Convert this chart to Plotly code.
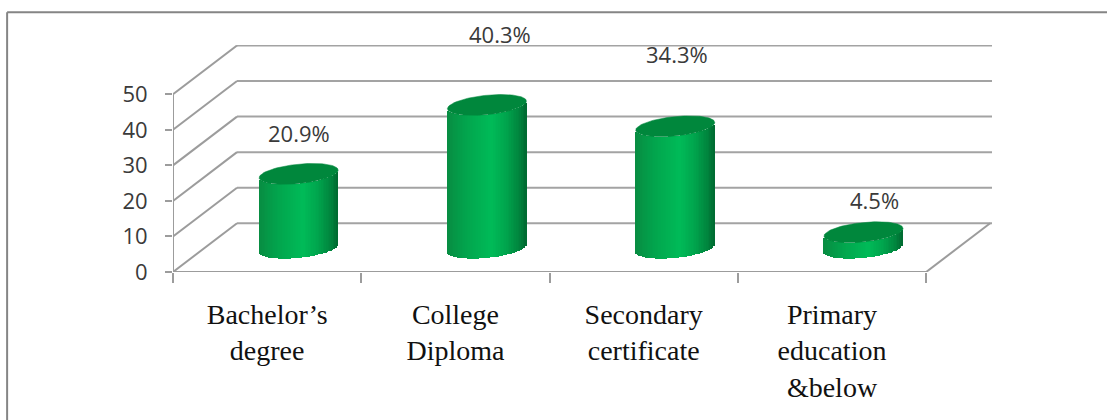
import numpy as np
import plotly.graph_objects as go

# Survey data: share of respondents by education level
categories = ["Bachelor’s<br>degree", "College<br>Diploma", "Secondary<br>certificate", "Primary<br>education<br>&below"]
values = [20.9, 40.3, 34.3, 4.5]
value_labels = ["20.9%", "40.3%", "34.3%", "4.5%"]
y_ticks = [0, 10, 20, 30, 40, 50]

# Page geometry of the plotting area
WIDTH, HEIGHT = 1107, 420
LEFT, RIGHT, TOP, BOTTOM = 172.85, 991.7, 45.0, 271.7
PX_PER_CAT = 188.25
PX_PER_UNIT = 3.55

x_lo = -0.5
x_hi = x_lo + (RIGHT - LEFT) / PX_PER_CAT
y_hi = (BOTTOM - TOP) / PX_PER_UNIT

# Oblique projection of the chart box
DEPTH_X = 64 / PX_PER_CAT
DEPTH_Y = 13.72
BAR_DX = 31.5 / PX_PER_CAT
BAR_FLOOR = 6.7
BAR_HALF = 39.5 / PX_PER_CAT
CAP_MINOR = 9.7 / PX_PER_UNIT
CAP_TILT = 3.8 / PX_PER_UNIT
N_STRIPS = 48

GRID = "#a3a3a3"
AXIS = "#9c9c9c"
TEXT = "#3a3a3a"
CAP = "#00873c"

# Horizontal shading across the cylinder, as (position, rgb)
SHADE = [(-1.0, (8, 140, 66)), (-0.55, (2, 163, 76)), (0.12, (0, 187, 88)),
         (0.5, (0, 165, 77)), (0.85, (0, 130, 60)), (1.0, (0, 105, 48))]
shade_pos = [s[0] for s in SHADE]


def shade(t):
    rgb = [np.interp(t, shade_pos, [s[1][i] for s in SHADE]) for i in range(3)]
    return "rgb(%d,%d,%d)" % tuple(round(c) for c in rgb)


fig = go.Figure()

strip_t = (np.arange(N_STRIPS) + 0.5) / N_STRIPS * 2 - 1
strip_w = 2 * BAR_HALF / N_STRIPS * 1.1

# Cylinder bodies: narrow bars of the true value, following the lower ellipse
for i, (cat, val) in enumerate(zip(categories, values)):
    cx = i + BAR_DX
    base = BAR_FLOOR + CAP_TILT * strip_t - CAP_MINOR * np.sqrt(1 - strip_t ** 2)
    fig.add_trace(go.Bar(
        x=cx + strip_t * BAR_HALF,
        y=[val] * N_STRIPS,
        base=base,
        width=strip_w,
        marker=dict(color=[shade(t) for t in strip_t], line=dict(width=0)),
        showlegend=False,
        hoverinfo="skip",
    ))

# Cylinder tops
theta = np.linspace(0, 2 * np.pi, 121)
for i, val in enumerate(values):
    cx = i + BAR_DX
    fig.add_trace(go.Scatter(
        x=cx + BAR_HALF * np.cos(theta),
        y=BAR_FLOOR + val + CAP_TILT * np.cos(theta) + CAP_MINOR * np.sin(theta),
        mode="lines", fill="toself", fillcolor=CAP,
        line=dict(color=CAP, width=0.5),
        showlegend=False, hoverinfo="skip",
    ))

# Side wall and floor edges of the box, plus the two front axes
front_lines = [([x_lo, x_lo + DEPTH_X], [t, t + DEPTH_Y]) for t in y_ticks]
front_lines.append(([x_lo + 4, x_lo + 4 + DEPTH_X], [0, DEPTH_Y]))
front_lines.append(([x_lo, x_lo + 4], [0, 0]))
front_lines.append(([x_lo, x_lo], [0, y_ticks[-1]]))
for xs, ys in front_lines:
    fig.add_trace(go.Scatter(
        x=xs, y=ys, mode="lines", cliponaxis=False,
        line=dict(color=AXIS, width=2),
        showlegend=False, hoverinfo="skip",
    ))

# Back wall gridlines sit beneath the cylinders
shapes = [dict(type="line", layer="below", xref="x", yref="y",
               x0=x_lo + DEPTH_X, x1=x_hi, y0=t + DEPTH_Y, y1=t + DEPTH_Y,
               line=dict(color=GRID, width=2)) for t in y_ticks]

# Outer frame of the figure, top and left edges only
px_to_paper_x = lambda p: (p - LEFT) / (RIGHT - LEFT)
px_to_paper_y = lambda p: (BOTTOM - p) / (BOTTOM - TOP)
FRAME_X, FRAME_Y = 7.0, 12.3
shapes.append(dict(type="line", xref="paper", yref="paper",
                   x0=px_to_paper_x(FRAME_X), x1=px_to_paper_x(WIDTH),
                   y0=px_to_paper_y(FRAME_Y), y1=px_to_paper_y(FRAME_Y),
                   line=dict(color="#858585", width=2)))
shapes.append(dict(type="line", xref="paper", yref="paper",
                   x0=px_to_paper_x(FRAME_X), x1=px_to_paper_x(FRAME_X),
                   y0=px_to_paper_y(FRAME_Y), y1=px_to_paper_y(HEIGHT),
                   line=dict(color="#858585", width=2)))

# Value labels, nudged individually clear of each cylinder
label_dx = [0, 13, 2, 11]
label_dy = [41, 71, 72.5, 32]
annotations = [
    dict(x=i + BAR_DX, y=BAR_FLOOR + val, xref="x", yref="y",
         text=txt, showarrow=False, xanchor="center", yanchor="middle",
         xshift=dx, yshift=dy,
         font=dict(family="Open Sans", size=22, color=TEXT))
    for i, (val, txt, dx, dy) in enumerate(zip(values, value_labels, label_dx, label_dy))
]

fig.update_layout(
    width=WIDTH, height=HEIGHT,
    margin=dict(l=LEFT, r=WIDTH - RIGHT, t=TOP, b=HEIGHT - BOTTOM, autoexpand=False),
    paper_bgcolor="white", plot_bgcolor="white",
    barmode="overlay", bargap=0,
    shapes=shapes, annotations=annotations,
    showlegend=False, hovermode=False,
    xaxis=dict(
        range=[x_lo, x_hi], showgrid=False, zeroline=False, showline=False,
        tickmode="array", tickvals=list(range(len(categories))), ticktext=categories,
        ticks="", ticklabelstandoff=23,
        tickfont=dict(family="Liberation Serif", size=28, color="#111111"),
        minor=dict(tickmode="array", tickvals=[x_lo + k for k in range(len(categories) + 1)],
                   ticks="outside", ticklen=10, tickwidth=2, tickcolor=AXIS, showgrid=False),
    ),
    yaxis=dict(
        range=[0, y_hi], showgrid=False, zeroline=False, showline=False,
        tickmode="array", tickvals=y_ticks, ticktext=[str(t) for t in y_ticks],
        ticks="outside", ticklen=7, tickwidth=2, tickcolor=AXIS, ticklabelstandoff=13,
        tickfont=dict(family="Open Sans", size=22, color=TEXT),
    ),
)

fig.write_html("out.html", config=dict(displayModeBar=False))
